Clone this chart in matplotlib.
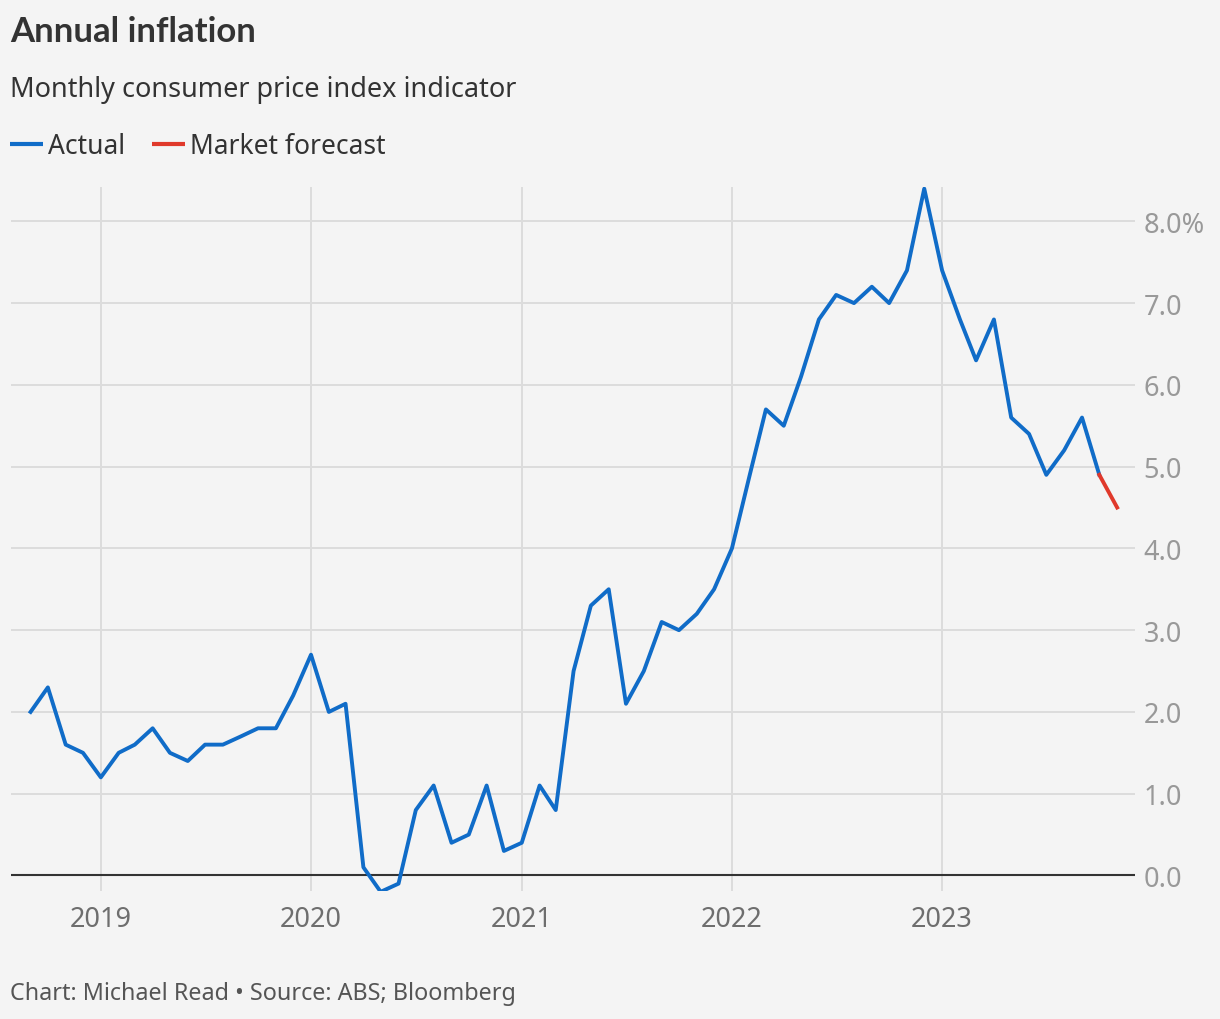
import numpy as np
import pandas as pd
import matplotlib
matplotlib.use("Agg")
import matplotlib.pyplot as plt
import matplotlib.dates as mdates

# monthly CPI indicator, annual % change, Sep 2018 - Oct 2023
actual = [2.0, 2.3, 1.6, 1.5,
          1.2, 1.5, 1.6, 1.8, 1.5, 1.4, 1.6, 1.6, 1.7, 1.8, 1.8, 2.2,
          2.7, 2.0, 2.1, 0.1, -0.2, -0.1, 0.8, 1.1, 0.4, 0.5, 1.1, 0.3,
          0.4, 1.1, 0.8, 2.5, 3.3, 3.5, 2.1, 2.5, 3.1, 3.0, 3.2, 3.5,
          4.0, 4.9, 5.7, 5.5, 6.1, 6.8, 7.1, 7.0, 7.2, 7.0, 7.4, 8.4,
          7.4, 6.8, 6.3, 6.8, 5.6, 5.4, 4.9, 5.2, 5.6, 4.9]
actual_dates = pd.date_range("2018-09-01", periods=len(actual), freq="MS")

forecast = [4.9, 4.5]
forecast_dates = pd.to_datetime(["2023-10-01", "2023-11-01"])

year_ticks = pd.to_datetime(["2019-01-01", "2020-01-01", "2021-01-01",
                             "2022-01-01", "2023-01-01"])
year_labels = ["2019", "2020", "2021", "2022", "2023"]
y_ticks = [0, 1, 2, 3, 4, 5, 6, 7, 8]
y_labels = ["0.0", "1.0", "2.0", "3.0", "4.0", "5.0", "6.0", "7.0", "8.0%"]

blue = "#106cc8"
red = "#e0392b"
bg = "#f4f4f4"

plt.rcParams["font.family"] = ["Noto Sans", "DejaVu Sans"]

fig = plt.figure(figsize=(12.2, 10.2), dpi=100, facecolor=bg)
W, H = 1220, 1020
left, right, top, bottom = 11, 1135, 188, 892
ax = fig.add_axes([left / W, 1 - bottom / H, (right - left) / W, (bottom - top) / H])
ax.set_facecolor(bg)

ax.plot(actual_dates, actual, color=blue, lw=2.8, zorder=3, label="Actual")
ax.plot(forecast_dates, forecast, color=red, lw=2.8, zorder=3, label="Market forecast")

ax.set_xlim(pd.Timestamp("2018-07-29"), pd.Timestamp("2023-12-02"))
ax.set_ylim(-0.19, 8.42)

ax.set_yticks(y_ticks)
ax.set_yticklabels(y_labels)
ax.yaxis.tick_right()
ax.set_xticks(year_ticks)
ax.set_xticklabels(year_labels)

ax.tick_params(axis="y", length=0, pad=6, labelsize=19.5, labelcolor="#999999")
ax.tick_params(axis="x", length=0, pad=10, labelsize=19.5, labelcolor="#6e6e6e")

ax.grid(True, color="#dcdcdc", lw=1.4, zorder=0)
ax.axhline(0, color="#333333", lw=1.5, zorder=2)
for s in ax.spines.values():
    s.set_visible(False)

fig.text(10 / W, 1 - 32 / H, "Annual inflation", fontsize=25, fontweight="bold",
         family=["Lato", "DejaVu Sans"], color="#333333", va="center", ha="left")
fig.text(10 / W, 1 - 90 / H, "Monthly consumer price index indicator", fontsize=19.5,
         color="#333333", va="center", ha="left")
fig.text(10 / W, 1 - 994 / H, "Chart: Michael Read \u2022 Source: ABS; Bloomberg",
         fontsize=16.8, color="#555555", va="center", ha="left")

leg = fig.legend(loc="center left", bbox_to_anchor=(10 / W, 1 - 147 / H), ncol=2,
                 frameon=False, fontsize=19, handlelength=1.25, handletextpad=0.2,
                 columnspacing=1.0, borderaxespad=0, borderpad=0)
for t in leg.get_texts():
    t.set_color("#333333")
for h in leg.legend_handles:
    h.set_linewidth(3)
    h.set_solid_capstyle("butt")

fig.savefig("out.png", dpi=100, facecolor=bg)
